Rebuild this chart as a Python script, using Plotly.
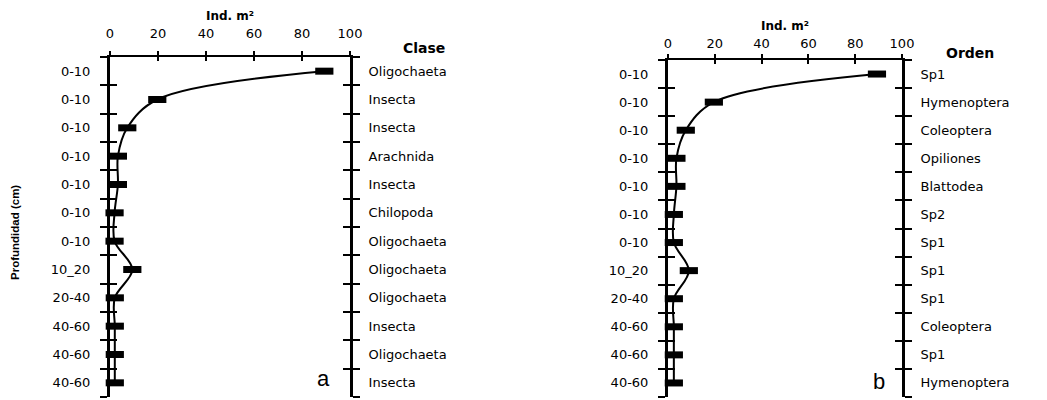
import plotly.graph_objects as go

# Profundidad de cada muestra (mismo orden en ambos paneles)
profundidad = ['0-10', '0-10', '0-10', '0-10', '0-10', '0-10', '0-10',
               '10_20', '20-40', '40-60', '40-60', '40-60']

# Panel a: clase
clase = ['Oligochaeta', 'Insecta', 'Insecta', 'Arachnida', 'Insecta', 'Chilopoda',
         'Oligochaeta', 'Oligochaeta', 'Oligochaeta', 'Insecta', 'Oligochaeta', 'Insecta']
ind_clase = [89.3, 19.7, 7.2, 3.3, 3.3, 1.9, 1.9, 9.3, 2.0, 2.0, 2.0, 2.0]

# Panel b: orden
orden = ['Sp1', 'Hymenoptera', 'Coleoptera', 'Opiliones', 'Blattodea', 'Sp2',
         'Sp1', 'Sp1', 'Sp1', 'Coleoptera', 'Sp1', 'Hymenoptera']
ind_orden = [89.3, 19.6, 7.6, 3.6, 3.6, 2.5, 2.5, 8.9, 2.5, 2.5, 2.5, 2.5]

x_ticks = [0, 20, 40, 60, 80, 100]

W, H = 1047, 400
OFF = 8  # margen por defecto del <body> en la página
n = len(profundidad)
rows = list(range(1, n + 1))
bounds = [i + 0.5 for i in range(0, n + 1)]
yrange = [n + 0.5, 0.5]

FONT = 'DejaVu Sans'
tick_font = dict(family=FONT, size=13, color='black')


def px_x(p):
    return (p - OFF) / W


def px_y(p):
    return 1 - (p - OFF) / H


def make_trace(vals, xa, ya, ghost=False):
    return go.Scatter(
        x=vals, y=rows, xaxis=xa, yaxis=ya,
        mode='lines+markers',
        line=dict(color='black', width=2, shape='spline', smoothing=1),
        marker=dict(symbol='line-ew', size=13, color='black',
                    line=dict(color='black', width=7)),
        cliponaxis=False, showlegend=False,
        opacity=0 if ghost else 1,
        hoverinfo='skip' if ghost else None,
    )


fig = go.Figure()
fig.add_trace(make_trace(ind_clase, 'x', 'y'))
fig.add_trace(make_trace(ind_clase, 'x3', 'y3', ghost=True))
fig.add_trace(make_trace(ind_orden, 'x2', 'y2'))
fig.add_trace(make_trace(ind_orden, 'x4', 'y4', ghost=True))

half_row = -14


def panel_axes(xdom, ydom, xa, ya, xo, yo, labels_r, x_standoff):
    name = lambda a: ('xaxis' if a[0] == 'x' else 'yaxis') + a[1:]
    lay = {}
    # eje superior: marcas hacia afuera
    lay[name(xa)] = dict(
        domain=xdom, anchor=ya, side='top', range=[0, 100], automargin=False,
        tickvals=x_ticks, ticks='outside', ticklen=4, tickwidth=2, tickcolor='black',
        showline=True, linewidth=2, linecolor='black', showgrid=False, zeroline=False,
        tickfont=tick_font, ticklabelstandoff=x_standoff,
    )
    # eje superior superpuesto: marcas hacia adentro
    lay[name(xo)] = dict(
        overlaying=xa, anchor=ya, side='top', range=[0, 100], automargin=False,
        tickvals=x_ticks, ticks='inside', ticklen=4, tickwidth=2, tickcolor='black',
        showticklabels=False, showline=False, showgrid=False, zeroline=False,
    )
    # eje izquierdo: profundidad, marcas afuera (reflejadas a la derecha)
    lay[name(ya)] = dict(
        domain=ydom, anchor=xa, side='left', range=yrange, automargin=False,
        tickvals=bounds, ticktext=profundidad + [''], ticklabelshift=half_row,
        ticks='outside', ticklen=7, tickwidth=2, tickcolor='black',
        tickfont=tick_font, ticklabelstandoff=7,
        showline=True, linewidth=3, linecolor='black', mirror='ticks',
        showgrid=False, zeroline=False,
    )
    # eje derecho: taxones, marcas adentro (reflejadas a la izquierda)
    lay[name(yo)] = dict(
        overlaying=ya, anchor=xa, side='right', range=yrange, automargin=False,
        tickvals=bounds, ticktext=labels_r + [''], ticklabelshift=half_row,
        ticks='inside', ticklen=7, tickwidth=2, tickcolor='black',
        tickfont=tick_font, ticklabelstandoff=13,
        showline=True, linewidth=3, linecolor='black', mirror='ticks',
        showgrid=False, zeroline=False,
    )
    return lay


layout_a = panel_axes([px_x(110), px_x(350)], [px_y(397), px_y(57)],
                      'x', 'y', 'x3', 'y3', clase, 8)
layout_b = panel_axes([px_x(668), px_x(902)], [px_y(397), px_y(60)],
                      'x2', 'y2', 'x4', 'y4', orden, 1)

fig.update_layout(**layout_a)
fig.update_layout(**layout_b)


def note(text, x, y, size, bold=False, family=FONT, angle=0):
    fig.add_annotation(
        text=f'<b>{text}</b>' if bold else text,
        x=px_x(x), y=px_y(y), xref='paper', yref='paper',
        xanchor='center', yanchor='middle', showarrow=False, textangle=angle,
        font=dict(family=family, size=size, color='black'),
    )


note('Ind. m²', 230, 16, 12, bold=True)
note('Ind. m²', 785, 26, 12, bold=True)
note('Clase', 424, 48, 14, bold=True)
note('Orden', 970, 53, 14, bold=True)
note('a', 323, 378, 22, family='Liberation Sans')
note('b', 879, 381, 22, family='Liberation Sans')
note('Profundidad (cm)', 15, 233, 11.5, bold=True, family='Liberation Sans', angle=-90)

fig.update_layout(
    width=W, height=H,
    margin=dict(l=0, r=0, t=0, b=0),
    paper_bgcolor='white', plot_bgcolor='white',
    showlegend=False,
)

fig.write_html('out.html')
